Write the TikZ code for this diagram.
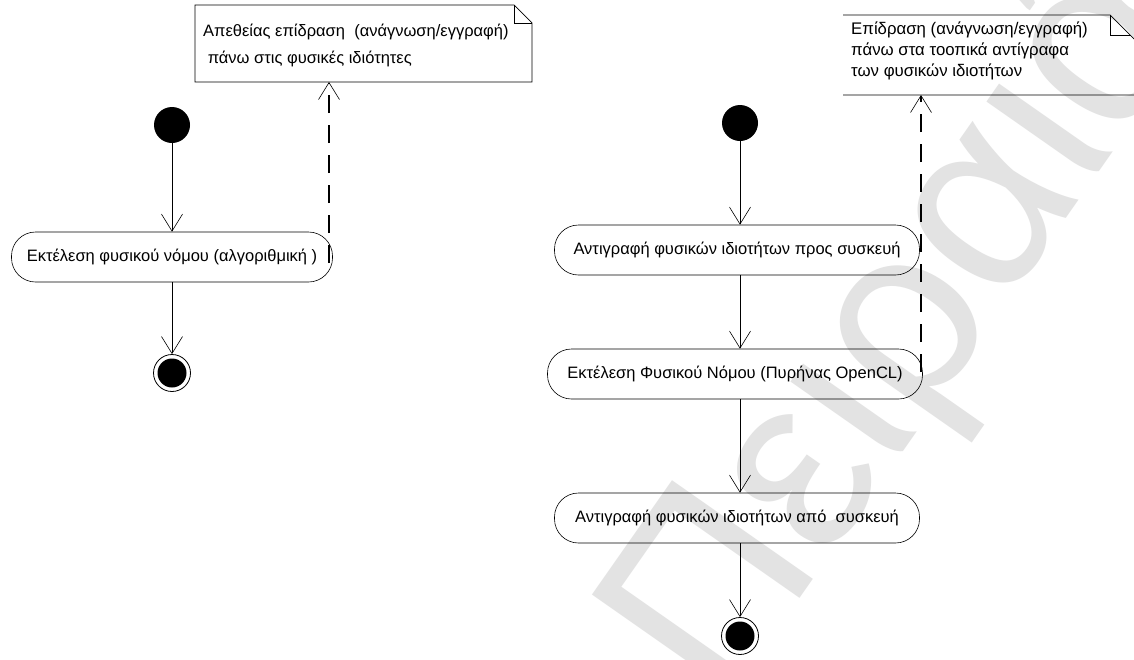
\documentclass[tikz,border=0pt]{standalone}
\usepackage{fontspec}
\setmainfont{Liberation Sans}
\usetikzlibrary{arrows.meta,calc}
\begin{document}
\begin{tikzpicture}[x=1pt,y=-1pt,
  lbl/.style={font=\fontsize{16.5}{20}\selectfont},
  activity/.style={draw, rounded corners=24pt, minimum height=50pt, inner sep=0pt, line width=0.6pt, lbl},
  initstate/.style={circle, fill=black, minimum size=36pt, inner sep=0pt},
  finalstate/.style={circle, draw, line width=0.8pt, minimum size=37pt, inner sep=0pt,
     path picture={\fill (path picture bounding box.center) circle (14.5pt);}},
  notetext/.style={align=left, anchor=north west, inner sep=0pt},
  flow/.style={line width=0.6pt, -{Straight Barb[length=17pt,width=21pt,line width=0.6pt]}},
  dep/.style={line width=1.9pt, dash pattern=on 18pt off 12pt, -{Straight Barb[length=17pt,width=21pt,line width=0.6pt]}},
  noteline/.style={line width=0.7pt}
]
\useasboundingbox (0,0) rectangle (1134,659);
\fill[white] (0,0) rectangle (1134,659);
% watermark
\begin{scope}
\clip (0,0) rectangle (1134,659);
\node[text=black!11, rotate=55, font=\fontsize{250}{250}\selectfont, inner sep=0pt] (wm) at (905,330) {Πειραιά};
\end{scope}

% ---------- left diagram ----------
\node[initstate] (startL) at (172,125) {};
\node[activity, minimum width=321pt] (actL) at (172,257) {Εκτέλεση φυσικού νόμου (αλγοριθμική )};
\node[finalstate] (endL) at (172,373) {};
\draw[flow] (startL) -- (actL);
\draw[flow] (actL) -- (endL);

\node[notetext, font=\fontsize{16.5}{27}\selectfont] (noteL) at (203,24) {Απεθείας επίδραση\ \ (ανάγνωση/εγγραφή)\\ \ πάνω στις φυσικές ιδιότητες};
\draw[noteline] (195,5) -- (514,5) -- (532,23) -- (532,82) -- (195,82) -- cycle;
\draw[noteline] (514,5) -- (514,23) -- (532,23);
\coordinate (depLs) at (329,263);
\coordinate (depLe) at (329,82);
\draw[dep] (depLs) -- (depLe);

% ---------- right diagram ----------
\node[initstate] (startR) at (740,123) {};
\node[activity, minimum width=365pt] (actA) at (737,250) {Αντιγραφή φυσικών ιδιοτήτων προς συσκευή};
\node[activity, minimum width=375pt] (actB) at (735,374) {Εκτέλεση Φυσικού Νόμου (Πυρήνας OpenCL)};
\node[activity, minimum width=365pt] (actC) at (737,518) {Αντιγραφή φυσικών ιδιοτήτων από\ \ συσκευή};
\node[finalstate] (endR) at (740,636) {};
\draw[flow] (startR) -- (startR |- actA.north);
\draw[flow] (actA.south -| startR) -- (actB.north -| startR);
\draw[flow] (actB.south -| startR) -- (actC.north -| startR);
\draw[flow] (actC.south -| startR) -- (endR);

\node[notetext, font=\fontsize{16.8}{21}\selectfont] (noteR) at (851,22) {Επίδραση (ανάγνωση/εγγραφή)\\πάνω στα τοοπικά αντίγραφα\\των φυσικών ιδιοτήτων};
\draw[noteline] (843,15) -- (1110,15) -- (1134,39) (1134,95) -- (843,95) -- cycle;
\draw[noteline] (1110,15) -- (1110,35) -- (1131,35);
\coordinate (depRs) at (921,372);
\coordinate (depRe) at (921,95);
\draw[dep] (depRs) -- (depRe);
\end{tikzpicture}
\end{document}
